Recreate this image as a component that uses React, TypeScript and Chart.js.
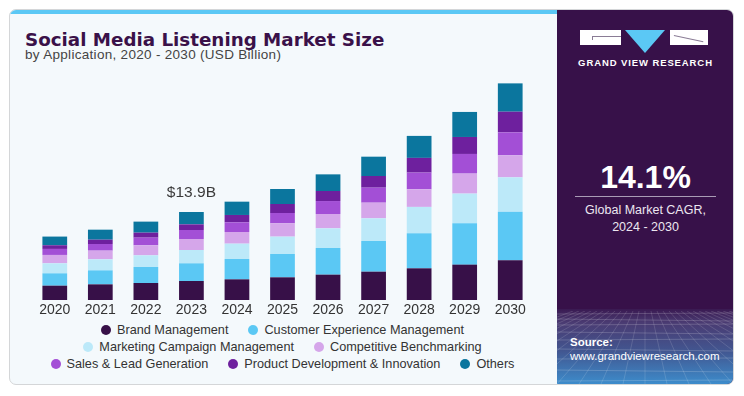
import React, { useEffect, useRef } from "react";
import { Chart, registerables } from "chart.js";

Chart.register(...registerables);

// ---------- DATA ----------
const YEARS = ["2020", "2021", "2022", "2023", "2024", "2025", "2026", "2027", "2028", "2029", "2030"];

const BRAND_MANAGEMENT = [2.26, 2.47, 2.68, 3.0, 3.26, 3.58, 4.0, 4.47, 5.0, 5.58, 6.26];
const CUSTOMER_EXPERIENCE = [1.95, 2.21, 2.53, 2.79, 3.21, 3.68, 4.21, 4.84, 5.53, 6.53, 7.68];
const MARKETING_CAMPAIGN = [1.58, 1.74, 1.84, 2.1, 2.42, 2.74, 3.1, 3.58, 4.16, 4.68, 5.42];
const COMPETITIVE_BENCHMARKING = [1.32, 1.37, 1.58, 1.74, 1.84, 2.1, 2.26, 2.47, 2.79, 3.16, 3.47];
const SALES_LEAD_GENERATION = [0.95, 1.05, 1.21, 1.42, 1.53, 1.63, 2.05, 2.37, 2.63, 3.1, 3.63];
const PRODUCT_DEVELOPMENT = [0.58, 0.68, 0.79, 0.89, 1.16, 1.42, 1.58, 1.84, 2.32, 2.68, 3.26];
const OTHERS = [1.37, 1.58, 1.74, 1.95, 2.1, 2.37, 2.63, 3.05, 3.47, 3.95, 4.47];

const SERIES_NAMES = [
  "Brand Management",
  "Customer Experience Management",
  "Marketing Campaign Management",
  "Competitive Benchmarking",
  "Sales & Lead Generation",
  "Product Development & Innovation",
  "Others",
];
const SERIES_VALUES = [
  BRAND_MANAGEMENT,
  CUSTOMER_EXPERIENCE,
  MARKETING_CAMPAIGN,
  COMPETITIVE_BENCHMARKING,
  SALES_LEAD_GENERATION,
  PRODUCT_DEVELOPMENT,
  OTHERS,
];
const SERIES_COLORS = ["#371048", "#5bc8f4", "#bce9f9", "#d5a6ea", "#a34fd6", "#6e209e", "#0b769e"];

const LEGEND_ROWS = [[0, 1], [2, 3], [4, 5, 6]];

const ANNOTATION_YEAR = "2023";
const ANNOTATION_TEXT = "$13.9B";

const TITLE = "Social Media Listening Market Size";
const SUBTITLE = "by Application, 2020 - 2030 (USD Billion)";
const CAGR_VALUE = "14.1%";
const CAGR_LINE1 = "Global Market CAGR,";
const CAGR_LINE2 = "2024 - 2030";

const FONT = "'Liberation Sans', Arial, sans-serif";

const totalLabelPlugin = {
  id: "totalLabel",
  afterDatasetsDraw(chart: any) {
    const idx = YEARS.indexOf(ANNOTATION_YEAR);
    if (idx < 0) return;
    const total = SERIES_VALUES.reduce((s, arr) => s + arr[idx], 0);
    const x = chart.scales.x.getPixelForValue(idx);
    const y = chart.scales.y.getPixelForValue(total);
    const ctx = chart.ctx;
    ctx.save();
    ctx.font = `15.5px ${FONT}`;
    ctx.fillStyle = "#3a3a3a";
    ctx.textAlign = "center";
    ctx.textBaseline = "alphabetic";
    ctx.fillText(ANNOTATION_TEXT, x, y - 15);
    ctx.restore();
  },
};

function ChartCanvas() {
  const ref = useRef<HTMLCanvasElement | null>(null);
  useEffect(() => {
    if (!ref.current) return;
    const chart = new Chart(ref.current, {
      type: "bar",
      data: {
        labels: YEARS,
        datasets: SERIES_NAMES.map((name, i) => ({
          label: name,
          data: SERIES_VALUES[i],
          backgroundColor: SERIES_COLORS[i],
          borderWidth: 0,
          barPercentage: 0.543,
          categoryPercentage: 1,
        })),
      },
      options: {
        responsive: false,
        animation: false,
        devicePixelRatio: 1,
        layout: { padding: 0 },
        plugins: {
          legend: { display: false },
          tooltip: { enabled: false },
          title: { display: false },
        },
        scales: {
          x: {
            stacked: true,
            offset: true,
            grid: { display: false, drawTicks: false },
            border: { display: false },
            afterFit: (scale: any) => {
              scale.height = 19;
            },
            ticks: {
              color: "#333333",
              padding: 2,
              font: { family: FONT, size: 14 },
              maxRotation: 0,
              autoSkip: false,
            },
          },
          y: {
            stacked: true,
            display: false,
            min: 0,
            max: 36.3,
          },
        },
      },
      plugins: [totalLabelPlugin],
    });
    return () => chart.destroy();
  }, []);
  return (
    <canvas
      ref={ref}
      width={501}
      height={249}
      style={{ position: "absolute", left: 32, top: 70, width: 501, height: 249, display: "block" }}
    />
  );
}

function Mesh() {
  const lines: any[] = [];
  const hs = [3, 8, 14, 21, 29, 38, 48, 59, 70];
  hs.forEach((y, i) =>
    lines.push(<line key={"h" + i} x1={0} x2={176} y1={y} y2={y + (i % 2 ? 2 : -1)} stroke="rgba(255,255,255,0.26)" strokeWidth={0.7} />)
  );
  for (let i = -12; i <= 24; i++) {
    const xTop = 88 + i * 6;
    const xBot = 88 + i * 22;
    lines.push(<line key={"v" + i} x1={xTop} y1={0} x2={xBot} y2={73} stroke="rgba(255,255,255,0.2)" strokeWidth={0.7} />);
  }
  return (
    <svg width={176} height={73} style={{ position: "absolute", left: 0, bottom: 0 }}>
      {lines}
    </svg>
  );
}

export default function App() {
  return (
    <div style={{ position: "fixed", left: 0, top: 0, width: 744, height: 396, background: "#ffffff", fontFamily: FONT, overflow: "hidden" }}>
      {/* card */}
      <div
        style={{
          position: "absolute",
          left: 9,
          top: 9,
          width: 725,
          height: 376,
          boxSizing: "border-box",
          border: "1px solid #d4d6d8",
          borderRadius: 7,
          background: "#f4f9fc",
          overflow: "hidden",
        }}
      >
        <div style={{ position: "absolute", left: 0, top: 0, width: 548, height: 4, background: "#5bc8f5" }} />
        {/* right panel */}
        <div style={{ position: "absolute", left: 547, top: 0, right: 0, bottom: 0, background: "#371149", overflow: "hidden" }}>
          <div
            style={{
              position: "absolute",
              left: 0,
              right: 0,
              bottom: 0,
              height: 75,
              background: "linear-gradient(180deg, #3a1a52 0%, #4a3b72 18%, #42558f 55%, #3d8ccb 100%)",
            }}
          >
            <Mesh />
          </div>
        </div>
      </div>

      {/* title */}
      <div
        style={{
          position: "absolute",
          left: 25,
          top: 30,
          fontFamily: "'DejaVu Sans', sans-serif",
          fontSize: 18.3,
          lineHeight: "20px",
          fontWeight: 700,
          color: "#3a1149",
          whiteSpace: "nowrap",
        }}
      >
        {TITLE}
      </div>
      <div
        style={{
          position: "absolute",
          left: 25,
          top: 48,
          fontSize: 13.5,
          lineHeight: "13px",
          letterSpacing: 0.3,
          color: "#444444",
          whiteSpace: "nowrap",
        }}
      >
        {SUBTITLE}
      </div>

      <ChartCanvas />

      {/* legend */}
      {LEGEND_ROWS.map((row, r) => (
        <div
          key={r}
          style={{
            position: "absolute",
            left: 22,
            width: 521,
            top: 322 + r * 17,
            height: 16,
            display: "flex",
            justifyContent: "center",
            alignItems: "center",
            gap: 20,
            fontSize: 12.7,
            color: "#333333",
            whiteSpace: "nowrap",
          }}
        >
          {row.map((i) => (
            <div key={i} style={{ display: "flex", alignItems: "center" }}>
              <span style={{ display: "inline-block", width: 10, height: 10, borderRadius: 5, background: SERIES_COLORS[i], marginRight: 6 }} />
              <span>{SERIES_NAMES[i]}</span>
            </div>
          ))}
        </div>
      ))}

      {/* logo */}
      <div style={{ position: "absolute", left: 580, top: 30, width: 41, height: 15, background: "#ffffff" }}>
        <div style={{ position: "absolute", left: 12, top: 6, width: 29, height: 1, background: "#8a7c95" }} />
        <div style={{ position: "absolute", left: 12, top: 6, width: 1, height: 4, background: "#8a7c95" }} />
      </div>
      <div
        style={{
          position: "absolute",
          left: 625,
          top: 30,
          width: 0,
          height: 0,
          borderLeft: "20px solid transparent",
          borderRight: "20px solid transparent",
          borderTop: "23px solid #5bc8f5",
        }}
      />
      <div style={{ position: "absolute", left: 670, top: 30, width: 38, height: 15, background: "#ffffff" }}>
        <div style={{ position: "absolute", left: 4, top: 5, width: 30, height: 1, background: "#8a7c95", transform: "rotate(12deg)", transformOrigin: "0 0" }} />
      </div>
      <div
        style={{
          position: "absolute",
          left: 557,
          width: 177,
          top: 57,
          textAlign: "center",
          fontSize: 9.5,
          lineHeight: "12px",
          fontWeight: 700,
          letterSpacing: 0.9,
          color: "#ffffff",
          whiteSpace: "nowrap",
        }}
      >
        GRAND VIEW RESEARCH
      </div>

      {/* CAGR */}
      <div
        style={{
          position: "absolute",
          left: 557,
          width: 177,
          top: 161,
          textAlign: "center",
          fontSize: 32,
          lineHeight: "32px",
          fontWeight: 700,
          color: "#ffffff",
          whiteSpace: "nowrap",
        }}
      >
        {CAGR_VALUE}
      </div>
      <div style={{ position: "absolute", left: 575, width: 141, top: 196, height: 1, background: "#a99bb5" }} />
      <div
        style={{
          position: "absolute",
          left: 557,
          width: 177,
          top: 202,
          textAlign: "center",
          fontSize: 12.5,
          lineHeight: "17px",
          color: "#ece6f0",
          whiteSpace: "nowrap",
        }}
      >
        <div>{CAGR_LINE1}</div>
        <div>{CAGR_LINE2}</div>
      </div>

      {/* source */}
      <div style={{ position: "absolute", left: 570, top: 335, fontSize: 11.5, lineHeight: "14px", fontWeight: 700, color: "#ffffff" }}>Source:</div>
      <div style={{ position: "absolute", left: 570, top: 349, fontSize: 11.5, lineHeight: "14px", color: "#ffffff", whiteSpace: "nowrap" }}>
        www.grandviewresearch.com
      </div>
    </div>
  );
}
